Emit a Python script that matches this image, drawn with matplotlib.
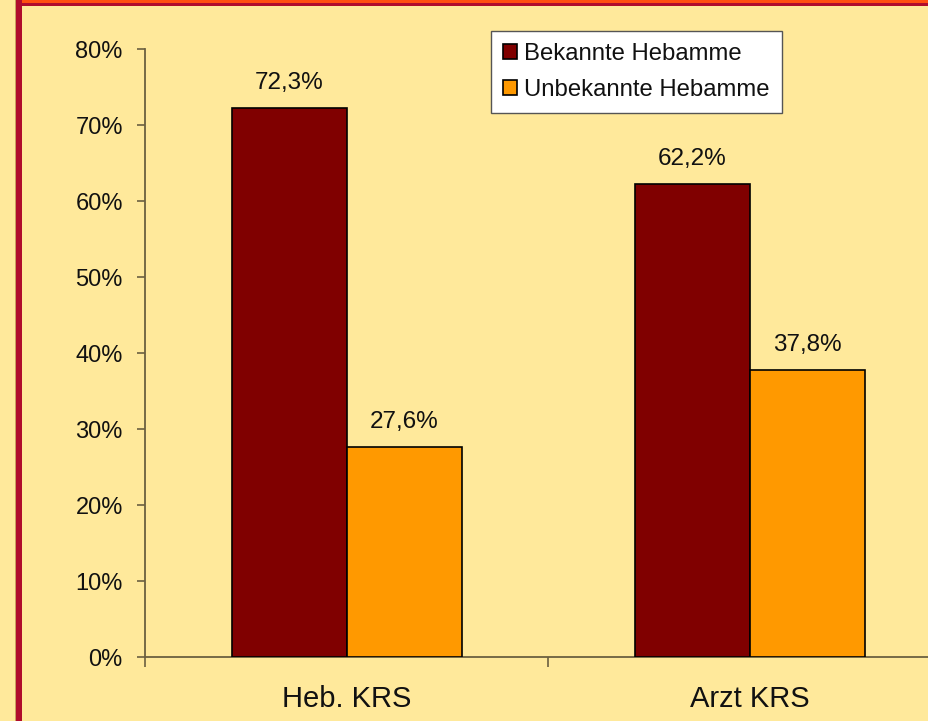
import matplotlib
matplotlib.use("Agg")
import matplotlib.pyplot as plt
from matplotlib.patches import Rectangle
from matplotlib.ticker import FixedLocator, PercentFormatter

categories = ["Heb. KRS", "Arzt KRS"]
series_names = ["Bekannte Hebamme", "Unbekannte Hebamme"]
bekannt = [72.3, 62.2]
unbekannt = [27.6, 37.8]
value_labels = [["72,3%", "62,2%"], ["27,6%", "37,8%"]]
yticks = [0, 10, 20, 30, 40, 50, 60, 70, 80]

BG = "#FFE99B"
DARK = "#800000"
ORANGE = "#FF9900"

plt.rcParams["font.family"] = ["Liberation Sans", "DejaVu Sans"]

W, H = 929, 721
fig = plt.figure(figsize=(W / 100, H / 100), dpi=100, facecolor=BG)

# slide decorations
fig.add_artist(Rectangle((15 / W, 0), 1 / W, 1, transform=fig.transFigure, color="#C8A060", lw=0))
fig.add_artist(Rectangle((16 / W, 0), 6 / W, 1, transform=fig.transFigure, color="#B00C2C", lw=0))
fig.add_artist(Rectangle((22 / W, 1 - 3 / H), 1, 3 / H, transform=fig.transFigure, color="#FF4E10", lw=0))
fig.add_artist(Rectangle((22 / W, 1 - 5.5 / H), 1, 2.5 / H, transform=fig.transFigure, color="#B00C2C", lw=0))

ax = fig.add_axes([145 / W, 1 - 657 / H, 806 / W, 608 / H])
ax.set_facecolor("none")

x = list(range(len(categories)))
bw = 115 / 403
b1 = ax.bar([i - bw / 2 for i in x], bekannt, width=bw, color=DARK, edgecolor="black", lw=1.2, label=series_names[0], zorder=3)
b2 = ax.bar([i + bw / 2 for i in x], unbekannt, width=bw, color=ORANGE, edgecolor="black", lw=1.2, label=series_names[1], zorder=3)

for bars, labs in zip([b1, b2], value_labels):
    for r, t in zip(bars, labs):
        ax.annotate(t, (r.get_x() + r.get_width() / 2, r.get_height()), xytext=(0, 10),
                    textcoords="offset points", ha="center", va="bottom", fontsize=17.5, color="#111111")

ax.set_xlim(-0.5, 1.5)
ax.set_ylim(0, 80)
ax.set_yticks(yticks)
ax.yaxis.set_major_formatter(PercentFormatter(decimals=0))
ax.set_xticks(x)
ax.set_xticklabels(categories)
ax.xaxis.set_minor_locator(FixedLocator([-0.5, 0.5, 1.5]))

for s in ["top", "right"]:
    ax.spines[s].set_visible(False)
for s in ["left", "bottom"]:
    ax.spines[s].set_color("#6B6040")
    ax.spines[s].set_linewidth(1.3)

ax.tick_params(axis="y", length=6, width=1.2, color="#6B6040", pad=10, labelsize=17, labelcolor="#111111")
ax.tick_params(axis="x", which="major", length=0, pad=20, labelsize=21, labelcolor="#111111")
ax.tick_params(axis="x", which="minor", length=7, width=1.2, color="#6B6040")

leg = fig.legend(handles=[b1, b2], loc="upper left", bbox_to_anchor=(491 / W, 1 - 31 / H),
                 bbox_transform=fig.transFigure, frameon=True, fancybox=False, fontsize=17.2,
                 handlelength=0.58, handleheight=0.58, handletextpad=0.32, borderpad=0.5,
                 labelspacing=0.6, borderaxespad=0, framealpha=1)
leg.get_frame().set_edgecolor("#555555")
leg.get_frame().set_linewidth(1.0)
leg.get_frame().set_facecolor("white")
for t in leg.get_texts():
    t.set_color("#111111")

fig.savefig("out.png", dpi=100, facecolor=BG)
